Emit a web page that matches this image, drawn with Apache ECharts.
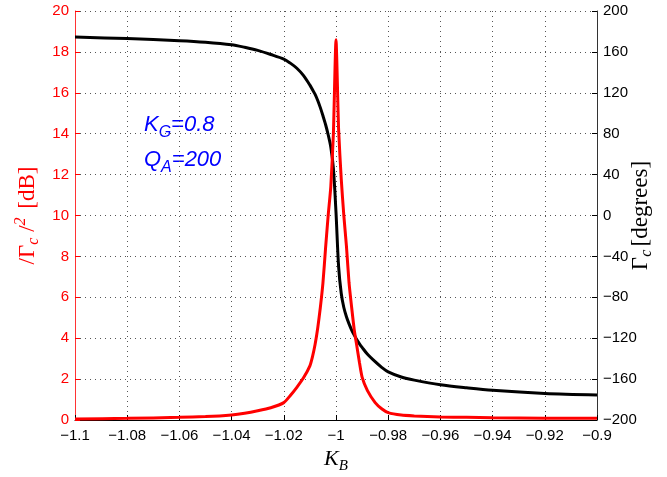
<!DOCTYPE html>
<html>
<head>
<meta charset="utf-8">
<script src="https://cdn.jsdelivr.net/npm/echarts@6/dist/echarts.min.js"></script>
<style>
  html, body { margin: 0; padding: 0; background: #fff; }
  #chart { width: 667px; height: 477px; }
</style>
</head>
<body>
<div id="chart"></div>
<script>
// K_B sample points (denser near the resonance)
var kb = [-1.1, -1.08, -1.06, -1.05, -1.04, -1.035, -1.03, -1.025, -1.02, -1.0175,
    -1.015, -1.0125, -1.01, -1.009, -1.008, -1.007, -1.006, -1.005, -1.004, -1.003,
    -1.002, -1.001, -1.0, -0.999, -0.998, -0.997, -0.996, -0.995, -0.994, -0.993,
    -0.992, -0.991, -0.99, -0.988, -0.985, -0.9825, -0.98, -0.975, -0.97, -0.96,
    -0.95, -0.94, -0.92, -0.9];
// |Gamma_c|^2 in dB (left axis)
var gainDb = [0.05, 0.08, 0.13, 0.17, 0.25, 0.33, 0.45, 0.6, 0.85, 1.2,
    1.6, 2.05, 2.65, 3.1, 3.7, 4.5, 5.5, 6.7, 8.4, 10.0,
    11.4, 14.0, 18.6, 14.2, 11.8, 10.0, 8.5, 6.7, 5.5, 4.4,
    3.6, 2.8, 2.1, 1.45, 0.85, 0.55, 0.36, 0.24, 0.2, 0.15,
    0.13, 0.11, 0.09, 0.08];
// phase of Gamma_c in degrees (right axis)
var phaseDeg = [174.5, 173, 171, 169.5, 167, 164.5, 161.5, 157.5, 153, 149,
    144, 137, 127.5, 123, 118.5, 112.5, 105.5, 97.5, 89, 79,
    67, 46, 3, -50, -76, -90, -99, -106, -112, -117,
    -121.5, -125.5, -129, -135.5, -143, -148.5, -153, -158, -161, -165.5,
    -168.5, -171, -174, -175.5];

var gainPts = kb.map(function(x, i) { return [x, gainDb[i]]; });
var phasePts = kb.map(function(x, i) { return [x, phaseDeg[i]]; });

function fmt(v) {
    var s = String(parseFloat(v.toFixed(4)));
    return s.replace('-', '\u2212');
}

var chart = echarts.init(document.getElementById('chart'));

var gridLine = {
    show: true,
    lineStyle: { color: '#555', width: 1, type: [1, 4] }
};

var option = {
    animation: false,
    backgroundColor: '#fff',
    grid: {
        left: 75, right: 70, top: 11, bottom: 57,
        containLabel: false,
        outerBoundsMode: 'none'
    },
    xAxis: {
        type: 'value',
        min: -1.1,
        max: -0.9,
        interval: 0.02,
        name: '{k|K}{s|B}',
        nameLocation: 'middle',
        nameGap: 25,
        nameMoveOverlap: false,
        nameTextStyle: {
            rich: {
                k: { fontFamily: 'Liberation Serif', fontStyle: 'italic', fontSize: 22, color: '#000' },
                s: { fontFamily: 'Liberation Serif', fontStyle: 'italic', fontSize: 15, color: '#000', padding: [14, 0, 0, 0] }
            }
        },
        axisLine: { show: true, onZero: false, lineStyle: { color: '#000', width: 1 } },
        axisTick: { show: true, inside: true, length: 5, lineStyle: { color: '#000' } },
        axisLabel: {
            color: '#000', fontSize: 15, fontFamily: 'Liberation Sans', margin: 8,
            showMinLabel: true, showMaxLabel: true, hideOverlap: false,
            formatter: fmt
        },
        splitLine: gridLine
    },
    yAxis: [{
        type: 'value',
        position: 'left',
        min: 0,
        max: 20,
        interval: 2,
        name: '{t|/\u0393}{s|c}{t| /}{p|2}  {t|[dB]}',
        nameLocation: 'middle',
        nameRotate: 90,
        nameGap: 33,
        nameMoveOverlap: false,
        nameTextStyle: {
            rich: {
                t: { fontFamily: 'Liberation Serif', fontSize: 23, color: '#ff0000' },
                s: { fontFamily: 'Liberation Serif', fontStyle: 'italic', fontSize: 16, color: '#ff0000', padding: [13, 0, 0, 0] },
                p: { fontFamily: 'Liberation Serif', fontStyle: 'italic', fontSize: 16, color: '#ff0000', padding: [0, 2, 13, 0] }
            }
        },
        axisLine: { show: true, lineStyle: { color: '#ff3333', width: 1 } },
        axisTick: { show: true, inside: true, length: 5, lineStyle: { color: '#ff0000' } },
        axisLabel: {
            color: '#ff0000', fontSize: 15, fontFamily: 'Liberation Sans', margin: 6,
            showMinLabel: true, showMaxLabel: true
        },
        splitLine: gridLine
    }, {
        type: 'value',
        position: 'right',
        min: -200,
        max: 200,
        interval: 40,
        name: '{t|\u0393}{s|c} {t|[degrees]}',
        nameLocation: 'middle',
        nameRotate: 90,
        nameGap: 29,
        nameMoveOverlap: false,
        nameTextStyle: {
            rich: {
                t: { fontFamily: 'Liberation Serif', fontSize: 23, color: '#000' },
                s: { fontFamily: 'Liberation Serif', fontStyle: 'italic', fontSize: 16, color: '#000', padding: [13, 0, 0, 0] }
            }
        },
        axisLine: { show: true, lineStyle: { color: '#333', width: 1 } },
        axisTick: { show: true, inside: true, length: 5, lineStyle: { color: '#000' } },
        axisLabel: {
            color: '#000', fontSize: 15, fontFamily: 'Liberation Sans', margin: 6,
            showMinLabel: true, showMaxLabel: true,
            formatter: fmt
        },
        splitLine: { show: false }
    }],
    graphic: [{
        type: 'text',
        left: 144,
        top: 114,
        style: {
            text: '{k|K}{s|G}{k|=0.8}',
            rich: {
                k: { fontFamily: 'Liberation Sans', fontStyle: 'italic', fontSize: 22, fill: '#0000ff' },
                s: { fontFamily: 'Liberation Sans', fontStyle: 'italic', fontSize: 16, fill: '#0000ff', padding: [15, 0, 0, 0] }
            }
        }
    }, {
        type: 'text',
        left: 144,
        top: 149,
        style: {
            text: '{k|Q}{s|A}{k|=200}',
            rich: {
                k: { fontFamily: 'Liberation Sans', fontStyle: 'italic', fontSize: 22, fill: '#0000ff' },
                s: { fontFamily: 'Liberation Sans', fontStyle: 'italic', fontSize: 16, fill: '#0000ff', padding: [15, 0, 0, 0] }
            }
        }
    }],
    series: [{
        type: 'line',
        yAxisIndex: 1,
        data: phasePts,
        showSymbol: false,
        smooth: 0.3,
        lineStyle: { color: '#000', width: 3 },
        z: 2
    }, {
        type: 'line',
        yAxisIndex: 0,
        data: gainPts,
        showSymbol: false,
        smooth: 0.2,
        lineStyle: { color: '#ff0000', width: 3 },
        z: 3
    }]
};

chart.setOption(option);
</script>
</body>
</html>
